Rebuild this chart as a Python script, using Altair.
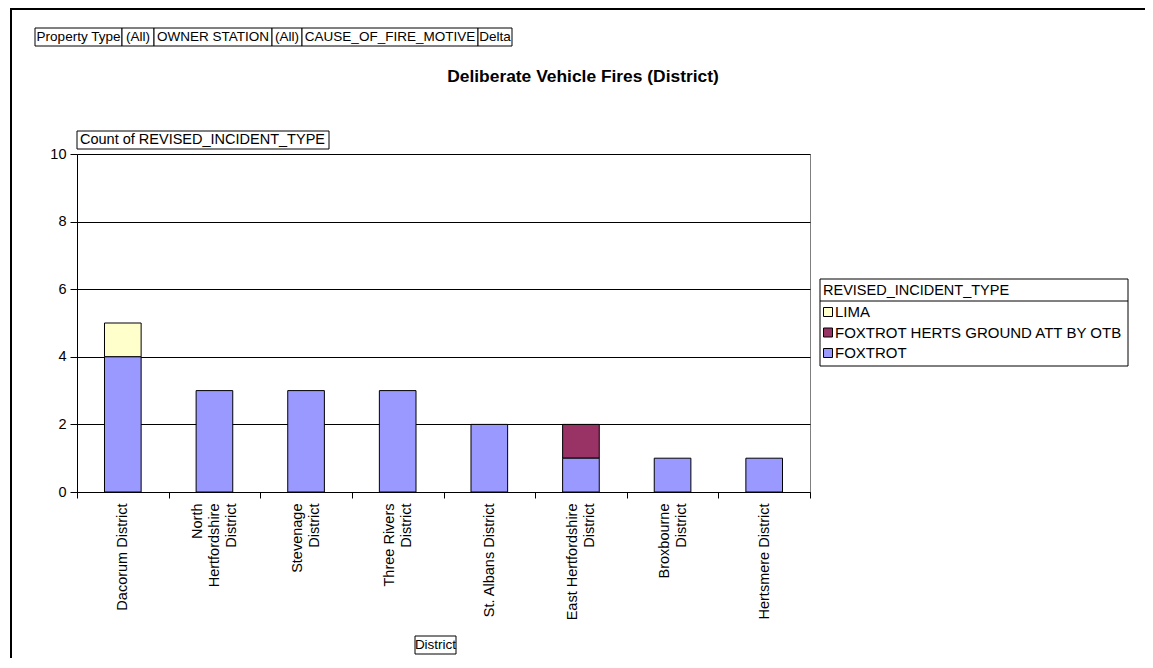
import altair as alt
import pandas as pd

# ---------------- data ----------------
districts = [
    "Dacorum District",
    "North Hertfordshire District",
    "Stevenage District",
    "Three Rivers District",
    "St. Albans District",
    "East Hertfordshire District",
    "Broxbourne District",
    "Hertsmere District",
]
tick_labels = [
    "Dacorum District",
    "North\nHertfordshire\nDistrict",
    "Stevenage\nDistrict",
    "Three Rivers\nDistrict",
    "St. Albans District",
    "East Hertfordshire\nDistrict",
    "Broxbourne\nDistrict",
    "Hertsmere District",
]
foxtrot = [4, 3, 3, 3, 2, 1, 1, 1]
foxtrot_herts = [0, 0, 0, 0, 0, 1, 0, 0]
lima = [1, 0, 0, 0, 0, 0, 0, 0]

series_names = ["LIMA", "FOXTROT HERTS GROUND ATT BY OTB", "FOXTROT"]
series_colors = ["#FFFFCC", "#993366", "#9999FF"]
stack_rank = {"FOXTROT": 0, "FOXTROT HERTS GROUND ATT BY OTB": 1, "LIMA": 2}

header_cells = ["Property Type", "(All)", "OWNER STATION", "(All)",
                "CAUSE_OF_FIRE_MOTIVE", "Delta"]
title_text = "Deliberate Vehicle Fires (District)"
y_title = "Count of REVISED_INCIDENT_TYPE"
x_title = "District"
legend_title = "REVISED_INCIDENT_TYPE"
y_ticks = [0, 2, 4, 6, 8, 10]

# ---------------- layout (pixels, relative to plot origin) ----------------
W, H = 733, 338
PAD_L, PAD_T = 69, 146
TOTAL_W, TOTAL_H = 1137, 650
FONT = "Liberation Sans, Arial, sans-serif"
FS = 14.5
SMALL = 13.5
LINE_H = 17
header_edges = [-42, 45, 77, 195, 225, 401, 435]

rows = []
for i, d in enumerate(districts):
    for s, vals in zip(series_names, [lima, foxtrot_herts, foxtrot]):
        if vals[i] > 0:
            rows.append({"label": tick_labels[i], "series": s,
                         "count": vals[i], "rank": stack_rank[s]})
df = pd.DataFrame(rows)

color_scale = alt.Scale(domain=series_names, range=series_colors)

label_offset = {
    "condition": [
        {"test": "length(split(datum.value, '\\n')) == 3", "value": -LINE_H},
        {"test": "length(split(datum.value, '\\n')) == 2", "value": -LINE_H / 2},
    ],
    "value": 0,
}

bars = alt.Chart(df).mark_bar(
    stroke="black", strokeWidth=1, width=alt.RelativeBandSize(0.4)
).encode(
    x=alt.X("label:N", sort=tick_labels,
            scale=alt.Scale(paddingInner=0, paddingOuter=0),
            axis=alt.Axis(title=None, labelAngle=270, labelAlign="right",
                          labelBaseline="middle",
                          labelExpr="split(datum.label, '\\n')",
                          labelFont=FONT, labelFontSize=FS, labelColor="black",
                          labelLineHeight=LINE_H, labelPadding=5, labelLimit=300,
                          labelOffset=label_offset,
                          tickBand="extent", tickSize=6, tickColor="black",
                          domainColor="black", grid=False)),
    y=alt.Y("count:Q", stack="zero",
            scale=alt.Scale(domain=[0, 10], nice=False),
            axis=alt.Axis(title=None, values=y_ticks, grid=True,
                          gridColor="black", gridWidth=1,
                          tickSize=7, tickColor="black", domainColor="black",
                          labelFont=FONT, labelFontSize=FS, labelColor="black",
                          labelPadding=4)),
    color=alt.Color("series:N", scale=color_scale, legend=None),
    order=alt.Order("rank:Q"),
)

one = pd.DataFrame({"a": [0]})

def box(x0, x1, y0, y1):
    return alt.Chart(one).mark_rect(fill="white", stroke="black", strokeWidth=1).encode(
        x=alt.value(x0), x2=alt.value(x1), y=alt.value(y0), y2=alt.value(y1))

def label(txt, x, y, align="left", size=FS, weight="normal"):
    return alt.Chart(pd.DataFrame({"t": [txt]})).mark_text(
        align=align, baseline="middle", font=FONT, fontSize=size,
        fontWeight=weight, color="black").encode(
        x=alt.value(x), y=alt.value(y), text="t:N")

layers = [bars]

# outer frame (top and left edges visible)
layers.append(alt.Chart(one).mark_rule(color="black", strokeWidth=2).encode(
    x=alt.value(-66), x2=alt.value(TOTAL_W - PAD_L), y=alt.value(-145)))
layers.append(alt.Chart(one).mark_rule(color="black", strokeWidth=2).encode(
    x=alt.value(-66), y=alt.value(-146), y2=alt.value(TOTAL_H - PAD_T)))

# header field boxes
for i, t in enumerate(header_cells):
    layers.append(box(header_edges[i], header_edges[i + 1], -126, -108))
    layers.append(label(t, (header_edges[i] + header_edges[i + 1]) / 2, -117,
                        align="center", size=SMALL))

# title
layers.append(label(title_text, 506, -77, align="center", size=17.4, weight="bold"))

# y title box
layers.append(box(0, 252, -23, -5))
layers.append(label(y_title, 3, -14))

# x title box
layers.append(box(338, 379, 482, 500))
layers.append(label(x_title, 358.5, 491, align="center", size=SMALL))

# legend
LX0, LX1, LY0, LY1 = 743, 1051, 125, 212
layers.append(box(LX0, LX1, LY0, LY1))
layers.append(alt.Chart(one).mark_rule(color="black", strokeWidth=1).encode(
    x=alt.value(LX0), x2=alt.value(LX1), y=alt.value(147)))
layers.append(label(legend_title, LX0 + 3, 136.5))
leg = pd.DataFrame({"series": series_names,
                    "yc": [158 + 20.5 * i for i in range(len(series_names))]})
leg["y0"] = leg["yc"] - 4.5
leg["y1"] = leg["yc"] + 4.5
layers.append(alt.Chart(leg).mark_rect(stroke="black", strokeWidth=1).encode(
    x=alt.value(LX0 + 3.5), x2=alt.value(LX0 + 12.5),
    y=alt.Y("y0:Q", scale=None, axis=None), y2="y1:Q",
    color=alt.Color("series:N", scale=color_scale, legend=None)))
layers.append(alt.Chart(leg).mark_text(
    align="left", baseline="middle", font=FONT, fontSize=15, color="black").encode(
    x=alt.value(LX0 + 15), y=alt.Y("yc:Q", scale=None, axis=None), text="series:N"))

chart = alt.layer(*layers).resolve_scale(y="independent").properties(
    width=W, height=H,
    padding={"left": PAD_L, "top": PAD_T,
             "right": TOTAL_W - PAD_L - W, "bottom": TOTAL_H - PAD_T - H},
    autosize=alt.AutoSizeParams(type="none"),
    background="white",
).configure_view(stroke="#808080", strokeWidth=1)

chart.save("out.html", embed_options={"renderer": "svg", "actions": False})
